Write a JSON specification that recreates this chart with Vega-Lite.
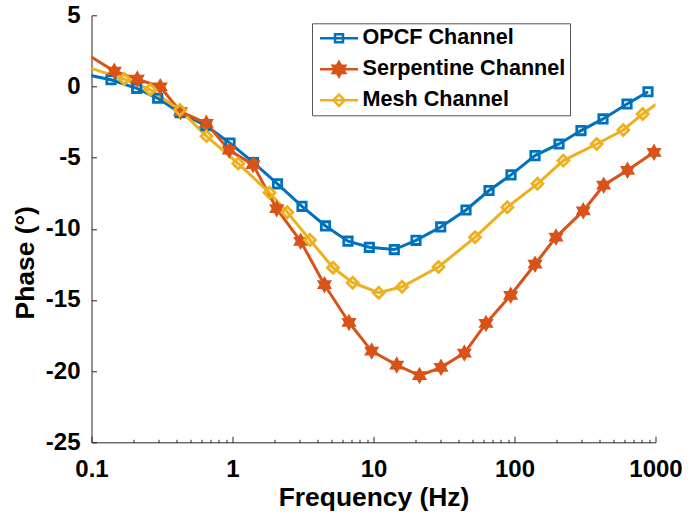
{
  "$schema": "https://vega.github.io/schema/vega-lite/v6.json",
  "width": 564,
  "height": 427,
  "autosize": "none",
  "padding": {"left": 91.5, "top": 15.3, "right": 43.5, "bottom": 78.7},
  "background": "white",
  "config": {
    "view": {"stroke": null},
    "font": "Liberation Sans",
    "axis": {
      "grid": false,
      "domainColor": "#262626",
      "domainWidth": 1,
      "tickColor": "#262626",
      "tickWidth": 1,
      "labelColor": "#000000",
      "titleColor": "#000000",
      "labelFont": "Liberation Sans",
      "titleFont": "Liberation Sans",
      "labelFontWeight": "bold",
      "titleFontWeight": "bold",
      "labelFontSize": 24,
      "titleFontSize": 26.4
    }
  },
  "data": {
    "values": [
      {"series": "OPCF Channel", "f": 0.0938, "phase": 0.81},
      {"series": "OPCF Channel", "f": 0.1375, "phase": 0.47},
      {"series": "OPCF Channel", "f": 0.2093, "phase": -0.13},
      {"series": "OPCF Channel", "f": 0.2947, "phase": -0.83},
      {"series": "OPCF Channel", "f": 0.4243, "phase": -1.84},
      {"series": "OPCF Channel", "f": 0.6489, "phase": -2.75},
      {"series": "OPCF Channel", "f": 0.96, "phase": -3.98},
      {"series": "OPCF Channel", "f": 1.409, "phase": -5.35},
      {"series": "OPCF Channel", "f": 2.085, "phase": -6.84},
      {"series": "OPCF Channel", "f": 3.111, "phase": -8.42},
      {"series": "OPCF Channel", "f": 4.566, "phase": -9.8},
      {"series": "OPCF Channel", "f": 6.594, "phase": -10.87},
      {"series": "OPCF Channel", "f": 9.338, "phase": -11.3},
      {"series": "OPCF Channel", "f": 14.05, "phase": -11.46},
      {"series": "OPCF Channel", "f": 20.02, "phase": -10.81},
      {"series": "OPCF Channel", "f": 29.97, "phase": -9.87},
      {"series": "OPCF Channel", "f": 45.29, "phase": -8.68},
      {"series": "OPCF Channel", "f": 65.94, "phase": -7.31},
      {"series": "OPCF Channel", "f": 94.46, "phase": -6.21},
      {"series": "OPCF Channel", "f": 139.8, "phase": -4.86},
      {"series": "OPCF Channel", "f": 206.8, "phase": -4.04},
      {"series": "OPCF Channel", "f": 296.1, "phase": -3.1},
      {"series": "OPCF Channel", "f": 424.3, "phase": -2.28},
      {"series": "OPCF Channel", "f": 627.9, "phase": -1.23},
      {"series": "OPCF Channel", "f": 884.8, "phase": -0.37},
      {"series": "Serpentine Channel", "f": 0.0945, "phase": 2.21},
      {"series": "Serpentine Channel", "f": 0.1451, "phase": 1.07},
      {"series": "Serpentine Channel", "f": 0.2113, "phase": 0.52},
      {"series": "Serpentine Channel", "f": 0.3075, "phase": -0.02},
      {"series": "Serpentine Channel", "f": 0.4278, "phase": -1.77},
      {"series": "Serpentine Channel", "f": 0.6521, "phase": -2.59},
      {"series": "Serpentine Channel", "f": 0.9491, "phase": -4.48},
      {"series": "Serpentine Channel", "f": 1.398, "phase": -5.49},
      {"series": "Serpentine Channel", "f": 2.058, "phase": -8.59},
      {"series": "Serpentine Channel", "f": 3.046, "phase": -10.88},
      {"series": "Serpentine Channel", "f": 4.492, "phase": -13.93},
      {"series": "Serpentine Channel", "f": 6.703, "phase": -16.58},
      {"series": "Serpentine Channel", "f": 9.71, "phase": -18.59},
      {"series": "Serpentine Channel", "f": 14.61, "phase": -19.57},
      {"series": "Serpentine Channel", "f": 21.2, "phase": -20.31},
      {"series": "Serpentine Channel", "f": 30.12, "phase": -19.73},
      {"series": "Serpentine Channel", "f": 44.06, "phase": -18.73},
      {"series": "Serpentine Channel", "f": 62.79, "phase": -16.65},
      {"series": "Serpentine Channel", "f": 93.98, "phase": -14.67},
      {"series": "Serpentine Channel", "f": 139.8, "phase": -12.49},
      {"series": "Serpentine Channel", "f": 197.0, "phase": -10.58},
      {"series": "Serpentine Channel", "f": 307.4, "phase": -8.74},
      {"series": "Serpentine Channel", "f": 429.1, "phase": -6.94},
      {"series": "Serpentine Channel", "f": 633.0, "phase": -5.89},
      {"series": "Serpentine Channel", "f": 975.9, "phase": -4.63},
      {"series": "Mesh Channel", "f": 0.0945, "phase": 1.35},
      {"series": "Mesh Channel", "f": 0.1709, "phase": 0.52},
      {"series": "Mesh Channel", "f": 0.2612, "phase": -0.23},
      {"series": "Mesh Channel", "f": 0.4243, "phase": -1.65},
      {"series": "Mesh Channel", "f": 0.6541, "phase": -3.49},
      {"series": "Mesh Channel", "f": 1.099, "phase": -5.42},
      {"series": "Mesh Channel", "f": 1.83, "phase": -7.47},
      {"series": "Mesh Channel", "f": 2.447, "phase": -8.83},
      {"series": "Mesh Channel", "f": 3.545, "phase": -10.79},
      {"series": "Mesh Channel", "f": 5.163, "phase": -12.73},
      {"series": "Mesh Channel", "f": 7.119, "phase": -13.79},
      {"series": "Mesh Channel", "f": 10.89, "phase": -14.49},
      {"series": "Mesh Channel", "f": 15.93, "phase": -14.07},
      {"series": "Mesh Channel", "f": 28.91, "phase": -12.68},
      {"series": "Mesh Channel", "f": 52.48, "phase": -10.6},
      {"series": "Mesh Channel", "f": 88.91, "phase": -8.48},
      {"series": "Mesh Channel", "f": 145.6, "phase": -6.84},
      {"series": "Mesh Channel", "f": 221.9, "phase": -5.21},
      {"series": "Mesh Channel", "f": 382.8, "phase": -4.04},
      {"series": "Mesh Channel", "f": 590.9, "phase": -3.06},
      {"series": "Mesh Channel", "f": 811.3, "phase": -1.93},
      {"series": "Mesh Channel", "f": 1076, "phase": -1.05}
    ]
  },
  "encoding": {
    "x": {
      "field": "f",
      "type": "quantitative",
      "scale": {"type": "log", "domain": [0.1, 1000], "nice": false},
      "axis": {
        "values": [0.1, 0.2, 0.3, 0.4, 0.5, 0.6, 0.7, 0.8, 0.9, 1, 2, 3, 4, 5, 6, 7, 8, 9, 10, 20, 30, 40, 50, 60, 70, 80, 90, 100, 200, 300, 400, 500, 600, 700, 800, 900, 1000],
        "labelExpr": "indexof([0.1, 1, 10, 100, 1000], datum.value) >= 0 ? toString(datum.value) : ''",
        "tickSize": {"condition": {"test": "indexof([0.1, 1, 10, 100, 1000], datum.value) >= 0", "value": -6}, "value": -3},
        "labelPadding": 21,
        "labelOverlap": false,
        "labelFlush": false,
        "title": "Frequency (Hz)",
        "titlePadding": 0
      }
    },
    "y": {
      "field": "phase",
      "type": "quantitative",
      "scale": {"domain": [-25, 5], "nice": false, "zero": false},
      "axis": {
        "values": [-25, -20, -15, -10, -5, 0, 5],
        "labelExpr": "toString(datum.value)",
        "tickSize": -5,
        "labelPadding": 16.5,
        "title": "Phase (°)",
        "titleAngle": -90,
        "titleX": -66,
        "titleY": 247,
        "titleAlign": "center",
        "titleBaseline": "middle"
      }
    },
    "color": {
      "field": "series",
      "type": "nominal",
      "scale": {"domain": ["OPCF Channel", "Serpentine Channel", "Mesh Channel"], "range": ["#0072BD", "#D95319", "#EDB120"]},
      "legend": {
        "orient": "none",
        "legendX": 220.5,
        "legendY": 8,
        "title": null,
        "fillColor": "white",
        "strokeColor": "#555555",
        "padding": 4,
        "labelFont": "Liberation Sans",
        "labelFontSize": 21.6,
        "labelFontWeight": "bold",
        "labelColor": "#000000",
        "labelLimit": 400,
        "symbolType": "M-2,0L2,0",
        "symbolSize": 361,
        "symbolStrokeWidth": 2.5,
        "symbolOffset": 12,
        "labelOffset": 12.5,
        "rowPadding": 7,
        "encode": {
          "symbols": {
            "update": {
              "shape": {"signal": "datum.value === 'OPCF Channel' ? 'M-2,0L2,0M-0.42,-0.42L0.42,-0.42L0.42,0.42L-0.42,0.42Z' : datum.value === 'Serpentine Channel' ? 'M-2,0L2,0M0,-0.76L0.219,-0.38L0.658,-0.38L0.439,0L0.658,0.38L0.219,0.38L0,0.76L-0.219,0.38L-0.658,0.38L-0.439,0L-0.658,-0.38L-0.219,-0.38Z' : 'M-2,0L2,0M0,-0.6L0.6,0L0,0.6L-0.6,0Z'"},
              "fill": {"signal": "datum.value === 'Serpentine Channel' ? '#D95319' : '#ffffff'"},
              "fillOpacity": {"signal": "datum.value === 'Serpentine Channel' ? 1 : 0"},
              "stroke": {"signal": "datum.value === 'OPCF Channel' ? '#0072BD' : datum.value === 'Serpentine Channel' ? '#D95319' : '#EDB120'"},
              "strokeWidth": {"value": 2.5},
              "strokeOpacity": {"value": 1},
              "opacity": {"value": 1}
            }
          }
        }
      }
    }
  },
  "layer": [
    {
      "mark": {"type": "line", "strokeWidth": 3, "clip": true}
    },
    {
      "transform": [{"filter": "datum.series === 'OPCF Channel' && datum.f >= 0.1 && datum.f <= 1000"}],
      "mark": {"type": "point", "shape": "square", "size": 70, "filled": false, "strokeWidth": 2.8, "opacity": 1}
    },
    {
      "transform": [{"filter": "datum.series === 'Serpentine Channel' && datum.f >= 0.1 && datum.f <= 1000"}],
      "mark": {"type": "point", "shape": "M0,-1L0.289,-0.5L0.866,-0.5L0.577,0L0.866,0.5L0.289,0.5L0,1L-0.289,0.5L-0.866,0.5L-0.577,0L-0.866,-0.5L-0.289,-0.5Z", "size": 182, "filled": true, "stroke": "#D95319", "strokeWidth": 2, "opacity": 1}
    },
    {
      "transform": [{"filter": "datum.series === 'Mesh Channel' && datum.f >= 0.1 && datum.f <= 1000"}],
      "mark": {"type": "point", "shape": "diamond", "size": 121, "filled": false, "strokeWidth": 2.8, "opacity": 1}
    }
  ]
}
